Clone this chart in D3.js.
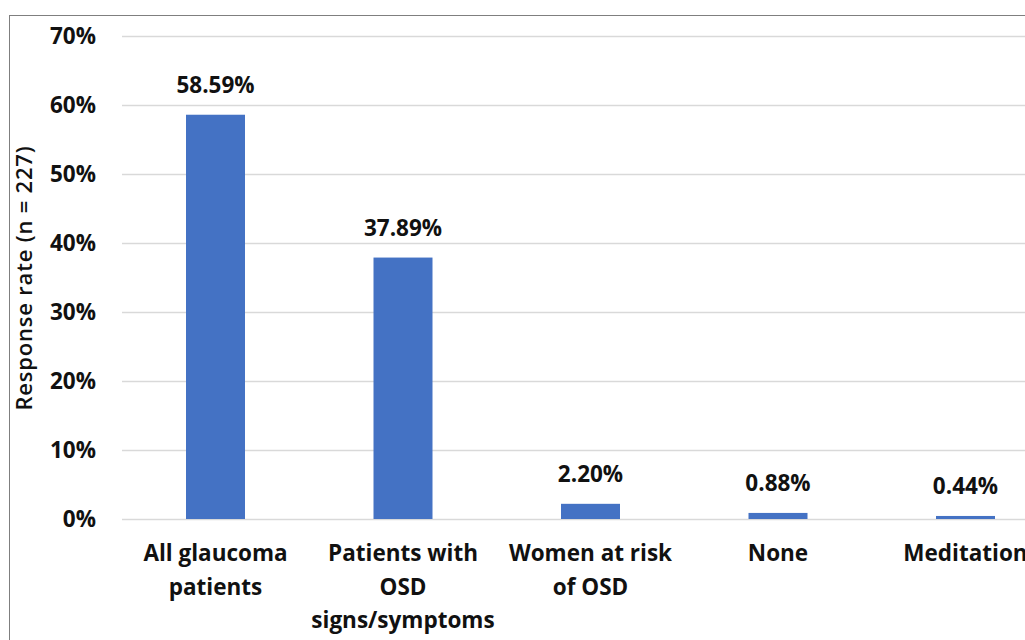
<!DOCTYPE html>
<html><head><meta charset="utf-8">
<script src="https://cdn.jsdelivr.net/npm/d3@7/dist/d3.min.js"></script>
<style>
body{margin:0;background:#fff;}
svg{display:block;}
text{font-family:"Open Sans",Lato,sans-serif;fill:#111;}
</style></head>
<body>
<svg id="chart" width="1025" height="640"></svg>
<script>
const categories = [["All glaucoma","patients"],["Patients with","OSD","signs/symptoms"],["Women at risk","of OSD"],["None"],["Meditation"]];
const values = [58.59, 37.89, 2.20, 0.88, 0.44];
const valueLabels = ["58.59%","37.89%","2.20%","0.88%","0.44%"];
const yTicks = [0,10,20,30,40,50,60,70];
const yTitle = "Response rate (n = 227)";

const svg = d3.select("#chart");
const FONT = '"Open Sans", Lato, sans-serif';
// frame
svg.append("rect").attr("x",9.5).attr("y",15.5).attr("width",1040).attr("height",640)
  .attr("fill","none").attr("stroke","#7f7f7f").attr("stroke-width",1);

const x = d3.scaleBand().domain(d3.range(categories.length)).range([121.75,1059.25]).padding(0);
const y = d3.scaleLinear().domain([0,70]).range([519,36]);
const barW = 59;

// gridlines via axis
const gAxis = svg.append("g").attr("transform","translate(122,0)")
  .call(d3.axisLeft(y).tickValues(yTicks).tickSize(-940).tickFormat(d=>d+"%").tickPadding(26));
gAxis.select(".domain").remove();
gAxis.selectAll(".tick line").attr("stroke","#d9d9d9").attr("stroke-width",1.5);
gAxis.selectAll(".tick text").attr("font-size",22.5).attr("font-weight",700).attr("fill","#111")
  .style("font-family",FONT);

// bars
svg.append("g").selectAll("rect").data(values).join("rect")
  .attr("x",(d,i)=>x(i)+x.bandwidth()/2-barW/2)
  .attr("width",barW)
  .attr("y",d=>y(d))
  .attr("height",d=>y(0)-y(d))
  .attr("fill","#4472c4");

// value labels
svg.append("g").selectAll("text").data(values).join("text")
  .attr("x",(d,i)=>x(i)+x.bandwidth()/2)
  .attr("y",d=>y(d)-22)
  .attr("text-anchor","middle")
  .attr("font-size",22.5).attr("font-weight",700)
  .text((d,i)=>valueLabels[i]);

// category labels
const cg = svg.append("g").selectAll("text").data(categories).join("text")
  .attr("x",(d,i)=>x(i)+x.bandwidth()/2)
  .attr("y",561)
  .attr("text-anchor","middle")
  .attr("font-size",22.5).attr("font-weight",700);
cg.selectAll("tspan").data(d=>d).join("tspan")
  .attr("x",function(){return this.parentNode.getAttribute("x");})
  .attr("dy",(d,i)=>i===0?0:33.5)
  .text(d=>d);

// y title
svg.append("text")
  .attr("transform","translate(32,278) rotate(-90)")
  .attr("text-anchor","middle")
  .attr("font-size",22).attr("font-weight",600)
  .attr("letter-spacing",0.8)
  .text(yTitle);
</script>
</body></html>
